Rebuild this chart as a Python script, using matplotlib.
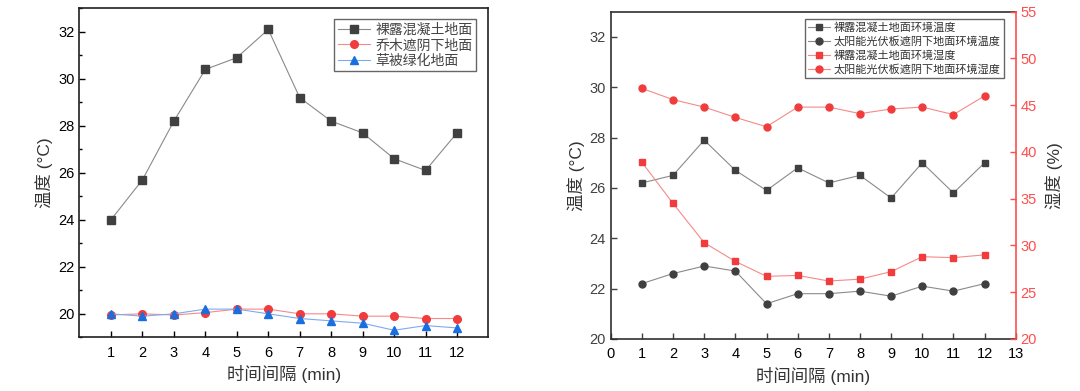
import matplotlib
matplotlib.use('Agg')
import matplotlib.pyplot as plt
from matplotlib.ticker import MultipleLocator

plt.rcParams['font.family'] = ['Liberation Sans', 'Noto Sans CJK SC', 'DejaVu Sans']
plt.rcParams['axes.unicode_minus'] = False

# time steps (min)
minutes = [1, 2, 3, 4, 5, 6, 7, 8, 9, 10, 11, 12]

# left chart: ground temperature
concrete = [24.0, 25.7, 28.2, 30.4, 30.9, 32.1, 29.2, 28.2, 27.7, 26.6, 26.1, 27.7]
tree_shade = [19.95, 20.0, 19.95, 20.05, 20.2, 20.2, 20.0, 20.0, 19.9, 19.9, 19.8, 19.8]
grass = [20.0, 19.9, 20.0, 20.2, 20.2, 20.0, 19.8, 19.7, 19.6, 19.3, 19.5, 19.4]
left_labels = ['裸露混凝土地面', '乔木遮阴下地面', '草被绿化地面']

# right chart: temperature / humidity
temp_bare = [26.2, 26.5, 27.9, 26.7, 25.9, 26.8, 26.2, 26.5, 25.6, 27.0, 25.8, 27.0]
temp_pv = [22.2, 22.6, 22.9, 22.7, 21.4, 21.8, 21.8, 21.9, 21.7, 22.1, 21.9, 22.2]
hum_bare = [38.9, 34.5, 30.3, 28.3, 26.7, 26.8, 26.2, 26.4, 27.2, 28.8, 28.7, 29.0]
hum_pv = [46.8, 45.6, 44.8, 43.7, 42.7, 44.8, 44.8, 44.1, 44.6, 44.8, 44.0, 46.0]
right_labels = ['裸露混凝土地面环境温度', '太阳能光伏板遮阴下地面环境温度',
                '裸露混凝土地面环境湿度', '太阳能光伏板遮阴下地面环境湿度']

dark = '#404040'
red = '#f03c3c'
red_line = '#f58a8a'
blue = '#1a6fdf'
blue_line = '#7eaaf0'
gray_line = '#8a8a8a'

fig = plt.figure(figsize=(10.8, 3.91), dpi=100)

# ---- left panel ----
ax1 = fig.add_axes([0.0736, 0.1373, 0.3787, 0.8414])
ax1.plot(minutes, concrete, '-s', color=gray_line, mfc=dark, mec=dark, ms=5.5, lw=0.8, label=left_labels[0])
ax1.plot(minutes, tree_shade, '-o', color=red_line, mfc=red, mec=red, ms=5.5, lw=0.8, label=left_labels[1])
ax1.plot(minutes, grass, '-^', color=blue_line, mfc=blue, mec=blue, ms=6, lw=0.8, label=left_labels[2])
ax1.set_xlim(0, 13)
ax1.set_ylim(19, 33)
ax1.set_xticks(minutes)
ax1.set_yticks([20, 22, 24, 26, 28, 30, 32])
ax1.yaxis.set_minor_locator(MultipleLocator(1))
ax1.tick_params(which='major', direction='in', length=4, width=1, labelsize=10.5, colors='black')
ax1.tick_params(which='minor', direction='in', length=2.5, width=1)
ax1.tick_params(axis='x', pad=6)
for s in ax1.spines.values():
    s.set_linewidth(1.2)
    s.set_color('#202020')
ax1.set_xlabel('时间间隔 (min)', fontsize=12.5, color='#333333', labelpad=4)
ax1.set_ylabel('温度 (°C)', fontsize=12.5, color='#333333', labelpad=4)
leg1 = ax1.legend(loc='upper right', bbox_to_anchor=(0.969, 0.967), fontsize=10,
                  fancybox=False, edgecolor=dark, borderaxespad=0, handlelength=2.3,
                  labelspacing=0.12, handletextpad=0.4, borderpad=0.25)
leg1.get_frame().set_linewidth(1.0)
for t in leg1.get_texts():
    t.set_color('#444444')

# ---- right panel ----
ax2 = fig.add_axes([0.5655, 0.133, 0.375, 0.837])
ax3 = ax2.twinx()
l1, = ax2.plot(minutes, temp_bare, '-s', color=gray_line, mfc=dark, mec=dark, ms=5, lw=0.8)
l2, = ax2.plot(minutes, temp_pv, '-o', color=gray_line, mfc=dark, mec=dark, ms=5, lw=0.8)
l3, = ax3.plot(minutes, hum_bare, '-s', color=red_line, mfc=red, mec=red, ms=5, lw=0.8)
l4, = ax3.plot(minutes, hum_pv, '-o', color=red_line, mfc=red, mec=red, ms=5, lw=0.8)
ax2.set_xlim(0, 13)
ax2.set_ylim(20, 33)
ax3.set_ylim(20, 55)
ax2.set_xticks(range(0, 14))
ax2.set_yticks([20, 22, 24, 26, 28, 30, 32])
ax3.set_yticks([20, 25, 30, 35, 40, 45, 50, 55])
ax2.tick_params(direction='in', length=4, width=1, labelsize=10.5, colors=dark)
ax2.tick_params(axis='x', pad=6, labelcolor='black')
ax3.tick_params(direction='in', length=4, width=1, labelsize=10.5, colors='#ff4d4d')
for s in ['left', 'bottom', 'top']:
    ax2.spines[s].set_linewidth(1.2)
    ax2.spines[s].set_color('#303030')
ax3.spines['right'].set_color('#ff4d4d')
ax3.spines['right'].set_linewidth(1.2)
for s in ['left', 'bottom', 'top']:
    ax3.spines[s].set_visible(False)
ax2.spines['right'].set_visible(False)
ax2.set_xlabel('时间间隔 (min)', fontsize=12.5, color='#333333', labelpad=4)
ax2.set_ylabel('温度 (°C)', fontsize=12.5, color='#333333', labelpad=3)
ax3.set_ylabel('湿度 (%)', fontsize=12.5, color='#333333', labelpad=6)
leg2 = ax2.legend([l1, l2, l3, l4], right_labels, loc='upper right',
                  bbox_to_anchor=(0.971, 0.978), fontsize=8, fancybox=False,
                  edgecolor=dark, borderaxespad=0, handlelength=2.0,
                  labelspacing=0.3, handletextpad=0.3, borderpad=0.3)
leg2.get_frame().set_linewidth(1.0)
for t in leg2.get_texts():
    t.set_color('#333333')

fig.savefig('out.png', dpi=100)
